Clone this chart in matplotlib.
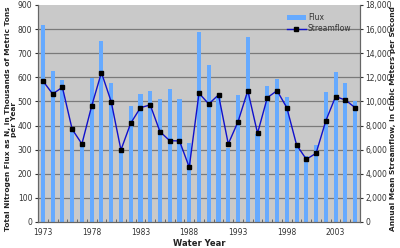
import matplotlib
matplotlib.use("Agg")
import matplotlib.pyplot as plt
import numpy as np
from matplotlib.ticker import FuncFormatter, FixedLocator

years = list(range(1973, 2006))
flux = [817, 627, 590, 390, 325, 598, 751, 575, 300, 483, 532,
        542, 510, 553, 510, 329, 786, 651, 520, 305, 527, 768,
        365, 564, 593, 520, 310, 275, 320, 541, 623, 578, 500]
streamflow = [11700, 10620, 11170, 7690, 6470, 9620, 12390, 9980, 5970, 8190, 9480,
              9710, 7490, 6740, 6720, 4540, 10680, 9790, 10540, 6470, 8320, 10890,
              7360, 10310, 10890, 9480, 6390, 5200, 5700, 8400, 10400, 10120, 9480]
label_years = [1973, 1978, 1983, 1988, 1993, 1998, 2003]

fig = plt.figure(figsize=(4.0, 2.48), dpi=100)
ax = fig.add_axes([0.095, 0.105, 0.805, 0.875])
ax2 = ax.twinx()

x = np.arange(len(years))
ax.set_facecolor('#c9c9c9')
ax.bar(x, flux, width=0.42, color='#66aaff', zorder=2, label='Flux')
ax.set_ylim(0, 900)
ax.set_xlim(-0.5, len(years) - 0.5)
ax.set_yticks(range(0, 901, 100))
for v in range(100, 900, 100):
    ax.axhline(v, color='#7a7a7a', lw=0.9, zorder=1)

ax2.plot(x, streamflow, color='#1010cc', lw=1.0, marker='s', markersize=2.6,
         markerfacecolor='black', markeredgecolor='black', zorder=3, label='Streamflow')
ax2.set_ylim(0, 18000)
ax2.set_yticks(range(0, 18001, 2000))
ax2.yaxis.set_major_formatter(FuncFormatter(lambda v, p: f"{int(v):,}"))

ax.xaxis.set_major_locator(FixedLocator([years.index(y) for y in label_years]))
ax.set_xticklabels([str(y) for y in label_years])
ax.xaxis.set_minor_locator(FixedLocator(np.arange(-0.5, len(years), 1.0)))
ax.tick_params(axis='x', which='major', length=0, labelsize=5.5, colors='#333333', pad=4)
ax.tick_params(axis='x', which='minor', length=2, color='#555555', direction='in')
ax.tick_params(axis='y', length=2, labelsize=5.5, colors='#333333', pad=2)
ax2.tick_params(axis='y', length=2, labelsize=5.5, colors='#333333', pad=2)

for a in (ax, ax2):
    a.spines['top'].set_visible(False)
    for s in ('left', 'right', 'bottom'):
        a.spines[s].set_color('#666666')
        a.spines[s].set_linewidth(0.8)

ax.set_xlabel('Water Year', fontsize=6, fontweight='bold', color='#222222', labelpad=2)
fig.text(0.028, 0.52, 'Total Nitrogen Flux as N, in Thousands of Metric Tons\nper Year',
         rotation=90, ha='center', va='center', fontsize=5.3, fontweight='bold',
         color='#222222', linespacing=1.1)
fig.text(0.982, 0.52, 'Annual Mean Streamflow, in Cubic Meters per Second',
         rotation=90, ha='center', va='center', fontsize=5.3, fontweight='bold',
         color='#222222')

h1, l1 = ax.get_legend_handles_labels()
h2, l2 = ax2.get_legend_handles_labels()
leg = ax2.legend(h1 + h2, l1 + l2, loc='upper right', frameon=False, fontsize=5.5,
                 handlelength=2.5, handletextpad=0.3, labelspacing=0.3,
                 bbox_to_anchor=(0.995, 0.995))
for t in leg.get_texts():
    t.set_color('#333333')

fig.savefig('out.png', dpi=100)
